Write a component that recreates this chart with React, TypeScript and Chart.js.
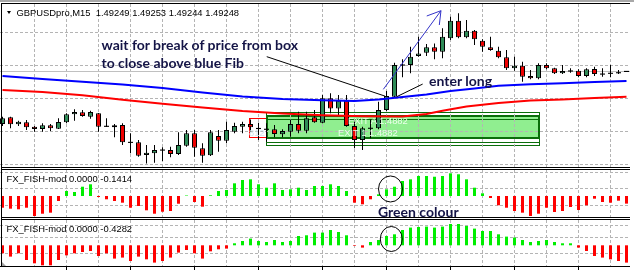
import React, { useEffect, useRef } from 'react';
import { Chart, registerables } from 'chart.js';

Chart.register(...registerables);

// ---------------- data ----------------
const TITLE = 'GBPUSDpro,M15  1.49249 1.49253 1.49244 1.49248';
const FISH1_LABEL = 'FX_FISH-mod 0.0000 -0.1414';
const FISH2_LABEL = 'FX_FISH-mod 0.0000 -0.4282';

const OPEN = [
  1.48770, 1.48831, 1.48767, 1.48785, 1.48745, 1.48724, 1.48758, 1.48727, 1.48785, 1.48858,
  1.48876, 1.48836, 1.48867, 1.48749, 1.48740, 1.48761, 1.48603, 1.48603, 1.48488, 1.48503,
  1.48533, 1.48533, 1.48497, 1.48572, 1.48685, 1.48549, 1.48485, 1.48661, 1.48618, 1.48700,
  1.48745, 1.48770, 1.48736, 1.48722, 1.48722, 1.48676, 1.48700, 1.48770, 1.48709, 1.48831,
  1.48782, 1.49003, 1.48912, 1.48981, 1.48752, 1.48624, 1.48731, 1.48731, 1.48897, 1.49018,
  1.49306, 1.49306, 1.49388, 1.49418, 1.49467, 1.49427, 1.49549, 1.49709, 1.49558, 1.49618,
  1.49527, 1.49467, 1.49436, 1.49376, 1.49276, 1.49300, 1.49206, 1.49185, 1.49306, 1.49276,
  1.49231, 1.49252, 1.49254, 1.49206, 1.49270, 1.49224, 1.49231, 1.49236, 1.49249,
];
const HIGH = [
  1.48836, 1.48836, 1.48800, 1.48806, 1.48752, 1.48776, 1.48770, 1.48822, 1.48867, 1.48903,
  1.48897, 1.48891, 1.48870, 1.48822, 1.48770, 1.48776, 1.48685, 1.48624, 1.48579, 1.48579,
  1.48558, 1.48563, 1.48694, 1.48715, 1.48715, 1.48594, 1.48715, 1.48715, 1.48791, 1.48782,
  1.48791, 1.48812, 1.48782, 1.48776, 1.48761, 1.48722, 1.48812, 1.48882, 1.48882, 1.48897,
  1.49033, 1.49049, 1.49033, 1.49033, 1.48791, 1.48745, 1.48812, 1.48972, 1.49070, 1.49327,
  1.49358, 1.49472, 1.49563, 1.49497, 1.49503, 1.49640, 1.49745, 1.49776, 1.49715, 1.49624,
  1.49540, 1.49563, 1.49472, 1.49442, 1.49381, 1.49336, 1.49261, 1.49322, 1.49322, 1.49282,
  1.49306, 1.49276, 1.49267, 1.49276, 1.49291, 1.49276, 1.49306, 1.49261, 1.49253,
];
const LOW = [
  1.48752, 1.48731, 1.48752, 1.48715, 1.48700, 1.48700, 1.48706, 1.48724, 1.48776, 1.48800,
  1.48836, 1.48818, 1.48700, 1.48742, 1.48649, 1.48579, 1.48503, 1.48472, 1.48412, 1.48418,
  1.48433, 1.48467, 1.48488, 1.48563, 1.48472, 1.48418, 1.48479, 1.48518, 1.48594, 1.48685,
  1.48685, 1.48700, 1.48624, 1.48609, 1.48649, 1.48649, 1.48654, 1.48685, 1.48685, 1.48782,
  1.48776, 1.48867, 1.48842, 1.48745, 1.48549, 1.48533, 1.48640, 1.48722, 1.48888, 1.49012,
  1.49194, 1.49231, 1.49381, 1.49388, 1.49358, 1.49367, 1.49533, 1.49549, 1.49549, 1.49488,
  1.49427, 1.49436, 1.49367, 1.49261, 1.49254, 1.49154, 1.49176, 1.49176, 1.49267, 1.49224,
  1.49224, 1.49236, 1.49194, 1.49194, 1.49206, 1.49200, 1.49194, 1.49224, 1.49244,
];
const CLOSE = [
  1.48822, 1.48767, 1.48791, 1.48740, 1.48724, 1.48758, 1.48731, 1.48788, 1.48858, 1.48879,
  1.48842, 1.48879, 1.48745, 1.48749, 1.48758, 1.48603, 1.48603, 1.48481, 1.48509, 1.48533,
  1.48533, 1.48497, 1.48579, 1.48685, 1.48554, 1.48481, 1.48694, 1.48618, 1.48715, 1.48752,
  1.48770, 1.48740, 1.48722, 1.48722, 1.48679, 1.48706, 1.48770, 1.48709, 1.48822, 1.48785,
  1.49003, 1.48912, 1.48981, 1.48752, 1.48624, 1.48731, 1.48731, 1.48897, 1.49024, 1.49306,
  1.49306, 1.49381, 1.49412, 1.49467, 1.49427, 1.49563, 1.49709, 1.49558, 1.49618, 1.49540,
  1.49472, 1.49442, 1.49376, 1.49276, 1.49300, 1.49200, 1.49185, 1.49306, 1.49276, 1.49231,
  1.49252, 1.49252, 1.49206, 1.49267, 1.49224, 1.49224, 1.49231, 1.49236, 1.49248,
];

// moving averages (bar index -> value)
const BLUE_MA_BAR = [0, 5, 10, 15, 20, 25, 30, 35, 40, 44, 47, 50, 53, 56, 59, 62, 66, 70, 74, 78];
const BLUE_MA = [
  1.49206, 1.49179, 1.49154, 1.49129, 1.49097, 1.49056, 1.49020, 1.48997, 1.48985, 1.48979,
  1.48992, 1.49015, 1.49038, 1.49070, 1.49092, 1.49118, 1.49131, 1.49140, 1.49151, 1.49161,
];
const RED_MA_BAR = [0, 5, 10, 15, 20, 25, 30, 35, 40, 45, 50, 53, 55, 58, 62, 66, 70, 74, 78];
const RED_MA = [
  1.49079, 1.49061, 1.49031, 1.48991, 1.48954, 1.48920, 1.48888, 1.48865, 1.48849, 1.48840,
  1.48838, 1.48861, 1.48891, 1.48929, 1.48961, 1.48983, 1.48992, 1.49006, 1.49018,
];

const FISH1 = [
  -0.217, -0.235, -0.246, -0.217, -0.370, -0.328, -0.309, -0.093, 0.093, 0.074,
  0.172, 0.217, -0.019, -0.061, -0.093, -0.124, -0.217, -0.185, -0.265, -0.328,
  -0.291, -0.278, -0.143, 0.009, -0.111, -0.198, 0.013, 0.093, 0.111, 0.235,
  0.296, 0.309, 0.217, 0.154, 0.235, 0.111, 0.124, 0.154, 0.111, 0.185,
  0.185, 0.217, 0.185, 0.093, -0.124, -0.154, -0.061, 0.031, 0.124, 0.172,
  0.278, 0.309, 0.370, 0.370, 0.357, 0.370, 0.420, 0.402, 0.309, 0.154,
  0.050, -0.037, -0.172, -0.217, -0.278, -0.309, -0.370, -0.328, -0.217, -0.296,
  -0.278, -0.204, -0.259, -0.172, -0.050, -0.111, -0.124, -0.087, -0.1414,
];
const FISH2 = [
  -0.198, -0.280, -0.198, -0.364, -0.446, -0.495, -0.495, -0.364, -0.248, -0.198,
  -0.166, -0.141, -0.265, -0.198, -0.329, -0.304, -0.389, -0.280, -0.347, -0.428,
  -0.389, -0.304, -0.181, -0.116, -0.198, -0.329, -0.149, -0.099, -0.082, 0.050,
  0.106, 0.166, 0.106, 0.082, 0.131, 0.082, 0.106, 0.230, 0.248, 0.314,
  0.314, 0.379, 0.329, 0.248, -0.015, -0.057, 0.082, 0.131, 0.230, 0.272,
  0.379, 0.438, 0.453, 0.463, 0.438, 0.463, 0.527, 0.527, 0.478, 0.413,
  0.354, 0.354, 0.272, 0.215, 0.191, 0.131, 0.082, 0.106, 0.131, 0.082,
  0.050, 0.050, -0.057, -0.141, -0.265, -0.304, -0.347, -0.389, -0.4282,
];

const PRICE_GRID = [1.4960, 1.4930, 1.4900, 1.4870, 1.4840];
const FISH1_GRID = [0.43, 0.14, -0.17];
const FISH2_GRID = [0.5, 0.19, -0.2];
const TIME_GRID = [4, 8, 12, 16, 20, 24, 28, 32, 36, 40, 44, 48, 52, 56, 60, 64, 68, 72, 76];
const TIME_TICKS = [8, 16, 24, 32, 40, 48, 56, 64, 72];

// drawn objects, in (bar index, value) coordinates
const RED_RECT = { x0: 30.85, x1: 34, y0: 1.48822, y1: 1.48649 };
const BOX_OUTER = { x0: 32.95, x1: 67, y0: 1.48876, y1: 1.48579 };
const BOX_FILL = { x0: 32.95, x1: 67, y0: 1.48852, y1: 1.48640 };
const BOX_INNER = { x0: 32.95, x1: 67, y0: 1.48815, y1: 1.48609 };
const LINE_A = { x0: 33.03, y0: 1.49382, x1: 47.8, y1: 1.49024 };
const LINE_B = { x0: 49.27, y0: 1.49018, x1: 52.52, y1: 1.49133 };
const ARROW = { x0: 47.6, y0: 1.49085, x1: 54.81, y1: 1.49800 };
const ARROW_WINGS = [
  { x: 53.03, y: 1.49752 },
  { x: 54.6, y: 1.49670 },
];
const CIRCLE1 = { x: 48.5, y: 0.13 };
const CIRCLE2 = { x: 48.6, y: 0.156 };

// ---------------- styling ----------------
const BAR_INDEX = OPEN.map((_, i) => i);
const X_MIN = -0.3125;
const X_MAX = 78.4375;
const GRID_COLOR = '#b4b4b4';
const BULL = '#2e8b57';
const BEAR = '#ee0000';
const LIME = '#00ee00';
const FISH_RED = '#ff0000';

const timeAxis = () => ({
  type: 'linear',
  min: X_MIN,
  max: X_MAX,
  offset: false,
  grid: { color: GRID_COLOR, lineWidth: 1, drawTicks: false, offset: false },
  border: { display: false, dash: [3, 2] },
  ticks: { display: false },
  afterBuildTicks: (s: any) => {
    s.ticks = TIME_GRID.map((v) => ({ value: v }));
  },
});

const valueAxis = (min: number, max: number, grid: number[]) => ({
  type: 'linear',
  min,
  max,
  grid: { color: GRID_COLOR, lineWidth: 1, drawTicks: false },
  border: { display: false, dash: [3, 2] },
  ticks: { display: false },
  afterBuildTicks: (s: any) => {
    s.ticks = grid.map((v) => ({ value: v }));
  },
});

const baseOptions = (scales: any, bottomPad = 0) => ({
  responsive: false,
  maintainAspectRatio: false,
  animation: false,
  devicePixelRatio: 1,
  events: [],
  layout: { padding: { top: 0, left: 0, right: 0, bottom: bottomPad } },
  plugins: { legend: { display: false }, tooltip: { enabled: false } },
  scales,
});

const crisp = (v: number) => Math.round(v - 0.5) + 0.5;

function rectPx(chart: any, b: any) {
  const { x, y } = chart.scales;
  const l = Math.round(x.getPixelForValue(b.x0));
  const r = Math.round(x.getPixelForValue(b.x1));
  const t = Math.round(y.getPixelForValue(b.y0));
  const btm = Math.round(y.getPixelForValue(b.y1));
  return { l, r, t, b: btm };
}

const mainDecor = {
  id: 'mainDecor',
  beforeDraw(chart: any) {
    const ctx = chart.ctx;
    ctx.save();
    // red rectangle (behind the green box)
    let r = rectPx(chart, RED_RECT);
    ctx.strokeStyle = '#ff0000';
    ctx.lineWidth = 1;
    ctx.strokeRect(r.l + 0.5, r.t + 0.5, r.r - r.l, r.b - r.t);
    // green box
    r = rectPx(chart, BOX_FILL);
    ctx.fillStyle = '#90ee90';
    ctx.fillRect(r.l, r.t, r.r - r.l, r.b - r.t);
    ctx.strokeStyle = '#0a6e0a';
    ctx.lineWidth = 2;
    ctx.strokeRect(r.l + 1, r.t + 1, r.r - r.l - 1, r.b - r.t - 1);
    ctx.lineWidth = 1;
    r = rectPx(chart, BOX_OUTER);
    ctx.strokeRect(r.l + 0.5, r.t + 0.5, r.r - r.l, r.b - r.t);
    r = rectPx(chart, BOX_INNER);
    ctx.strokeRect(r.l + 0.5, r.t + 0.5, r.r - r.l, r.b - r.t);
    ctx.restore();
  },
  beforeDatasetsDraw(chart: any) {
    const { ctx, chartArea, scales } = chart;
    const yb = crisp(scales.y.getPixelForValue(CLOSE[CLOSE.length - 1]));
    ctx.save();
    ctx.strokeStyle = '#c0c0c0';
    ctx.lineWidth = 1;
    ctx.beginPath();
    ctx.moveTo(chartArea.left, yb);
    ctx.lineTo(chartArea.right, yb);
    ctx.stroke();
    ctx.restore();
  },
  afterDatasetsDraw(chart: any) {
    const { ctx, scales } = chart;
    const px = (v: number) => scales.x.getPixelForValue(v);
    const py = (v: number) => scales.y.getPixelForValue(v);
    ctx.save();
    ctx.lineWidth = 1;
    ctx.strokeStyle = '#000000';
    for (const L of [LINE_A, LINE_B]) {
      ctx.beginPath();
      ctx.moveTo(px(L.x0), py(L.y0));
      ctx.lineTo(px(L.x1), py(L.y1));
      ctx.stroke();
    }
    ctx.strokeStyle = '#3232c8';
    ctx.beginPath();
    ctx.moveTo(px(ARROW.x0), py(ARROW.y0));
    ctx.lineTo(px(ARROW.x1), py(ARROW.y1));
    for (const w of ARROW_WINGS) {
      ctx.moveTo(px(ARROW.x1), py(ARROW.y1));
      ctx.lineTo(px(w.x), py(w.y));
    }
    ctx.stroke();
    ctx.restore();
  },
};

const circleDecor = (c: { x: number; y: number }, rx: number, ry: number) => ({
  id: 'circleDecor',
  afterDatasetsDraw(chart: any) {
    const { ctx, scales } = chart;
    ctx.save();
    ctx.strokeStyle = '#000000';
    ctx.lineWidth = 1;
    ctx.beginPath();
    ctx.ellipse(scales.x.getPixelForValue(c.x), scales.y.getPixelForValue(c.y), rx, ry, 0, 0, Math.PI * 2);
    ctx.stroke();
    ctx.restore();
  },
});

const bottomAxisDecor = {
  id: 'bottomAxis',
  afterDraw(chart: any) {
    const { ctx, chartArea, scales } = chart;
    ctx.save();
    ctx.fillStyle = '#000000';
    ctx.fillRect(0, chartArea.bottom, chart.width, 1);
    for (const t of TIME_TICKS) {
      const x = Math.round(scales.x.getPixelForValue(t) - 0.5);
      ctx.fillRect(x, chartArea.bottom + 1, 1, 3);
    }
    ctx.restore();
  },
};

function mainConfig(): any {
  const isDoji = (i: number) => Math.abs(OPEN[i] - CLOSE[i]) < 0.00005;
  return {
    type: 'bar',
    data: {
      datasets: [
        {
          type: 'line',
          data: BLUE_MA_BAR.map((b, k) => ({ x: b, y: BLUE_MA[k] })),
          borderColor: '#0000ff',
          borderWidth: 2,
          pointRadius: 0,
          tension: 0,
          order: 1,
        },
        {
          type: 'line',
          data: RED_MA_BAR.map((b, k) => ({ x: b, y: RED_MA[k] })),
          borderColor: '#ff0000',
          borderWidth: 2,
          pointRadius: 0,
          tension: 0,
          order: 1,
        },
        {
          type: 'bar',
          data: BAR_INDEX.map((i) => {
            const lo = Math.min(OPEN[i], CLOSE[i]);
            const hi = Math.max(OPEN[i], CLOSE[i]);
            return { x: i, y: isDoji(i) ? [lo - 0.00005, lo + 0.00005] : [lo, hi] };
          }),
          backgroundColor: BAR_INDEX.map((i) => (isDoji(i) ? '#000000' : CLOSE[i] > OPEN[i] ? BULL : BEAR)),
          borderColor: '#000000',
          borderWidth: BAR_INDEX.map((i) => (isDoji(i) ? 0 : 1)),
          borderSkipped: false,
          barThickness: 5,
          grouped: false,
          inflateAmount: 0,
          order: 2,
        },
        {
          type: 'bar',
          data: BAR_INDEX.map((i) => ({ x: i, y: [LOW[i], HIGH[i]] })),
          backgroundColor: '#000000',
          borderWidth: 0,
          barThickness: 1,
          grouped: false,
          inflateAmount: 0,
          order: 3,
        },
      ],
    },
    options: baseOptions({ x: timeAxis(), y: valueAxis(1.4837, 1.49861, PRICE_GRID) }),
    plugins: [mainDecor],
  };
}

function fishConfig(values: number[], min: number, max: number, grid: number[], circle: any, rx: number, ry: number, withAxis: boolean): any {
  const plugins: any[] = [circleDecor(circle, rx, ry)];
  if (withAxis) plugins.push(bottomAxisDecor);
  return {
    type: 'bar',
    data: {
      datasets: [
        {
          data: BAR_INDEX.map((i) => ({ x: i, y: values[i] })),
          backgroundColor: BAR_INDEX.map((i) => (values[i] >= 0 ? LIME : FISH_RED)),
          borderWidth: 0,
          barThickness: 3,
          grouped: false,
          inflateAmount: 0,
        },
      ],
    },
    options: baseOptions({ x: timeAxis(), y: valueAxis(min, max, grid) }, withAxis ? 4 : 0),
    plugins,
  };
}

function ChartCanvas({ make, top, height }: { make: () => any; top: number; height: number }) {
  const ref = useRef<HTMLCanvasElement | null>(null);
  useEffect(() => {
    if (!ref.current) return;
    const chart = new Chart(ref.current, make());
    return () => chart.destroy();
  }, []);
  return (
    <canvas
      ref={ref}
      width={630}
      height={height}
      style={{ position: 'absolute', left: 0, top, width: 630, height, display: 'block' }}
    />
  );
}

const hLine = (top: number, color = '#000000', h = 1, left = 1, width = 629): React.CSSProperties => ({
  position: 'absolute', left, top, width, height: h, background: color,
});

const smallFont: React.CSSProperties = {
  position: 'absolute',
  fontFamily: '"Liberation Sans", Arial, sans-serif',
  fontSize: 9.4,
  lineHeight: '12px',
  color: '#000000',
  whiteSpace: 'pre',
};

const noteFont: React.CSSProperties = {
  position: 'absolute',
  fontFamily: 'Lato, "Open Sans", sans-serif',
  fontWeight: 700,
  fontSize: 14,
  lineHeight: '17.5px',
  color: '#141446',
  whiteSpace: 'nowrap',
};

export default function App() {
  return (
    <div style={{ position: 'absolute', left: 0, top: 0, width: 634, height: 270, background: '#ffffff', overflow: 'hidden' }}>
      <ChartCanvas make={mainConfig} top={4} height={164} />
      <ChartCanvas make={() => fishConfig(FISH1, -0.3889, 0.4815, FISH1_GRID, CIRCLE1, 12, 13, false)} top={170} height={47} />
      <ChartCanvas make={() => fishConfig(FISH2, -0.512, 0.626, FISH2_GRID, CIRCLE2, 11, 12.5, true)} top={220} height={50} />

      {/* frame */}
      <div style={hLine(0, '#a8a8a8', 2, 0, 634)} />
      <div style={hLine(3)} />
      <div style={hLine(167)} />
      <div style={hLine(169)} />
      <div style={hLine(217)} />
      <div style={hLine(219)} />
      <div style={{ position: 'absolute', left: 1, top: 3, width: 1, height: 264, background: '#000000' }} />
      <div style={{ position: 'absolute', left: 2, top: 262, width: 0, height: 0, borderBottom: '4px solid #a0a0a0', borderRight: '4px solid transparent' }} />

      {/* title */}
      <div style={{ position: 'absolute', left: 7, top: 11, width: 0, height: 0, borderLeft: '2.2px solid transparent', borderRight: '2.2px solid transparent', borderTop: '3.3px solid #000' }} />
      <div style={{ ...smallFont, left: 16.5, top: 7 }}>{TITLE}</div>
      <div style={{ ...smallFont, left: 6.5, top: 173 }}>{FISH1_LABEL}</div>
      <div style={{ ...smallFont, left: 6.5, top: 223 }}>{FISH2_LABEL}</div>

      {/* box labels */}
      <div style={{ ...smallFont, left: 348, top: 114.8, color: '#eaffea' }}>EXIT A 1.4882</div>
      <div style={{ ...smallFont, left: 338, top: 127.4, color: '#eaffea' }}>EXIT 1 1.4882</div>
      <div style={{ ...smallFont, left: 249, top: 126.8, color: '#cfe6ef' }}>812</div>

      {/* annotations */}
      <div style={{ ...noteFont, left: 101.5, top: 36 }}>
        wait for break of price from box
        <br />
        to close above blue Fib
      </div>
      <div style={{ ...noteFont, left: 429, top: 72 }}>enter long</div>
      <div style={{ ...noteFont, left: 378, top: 202.5 }}>Green colour</div>
    </div>
  );
}
